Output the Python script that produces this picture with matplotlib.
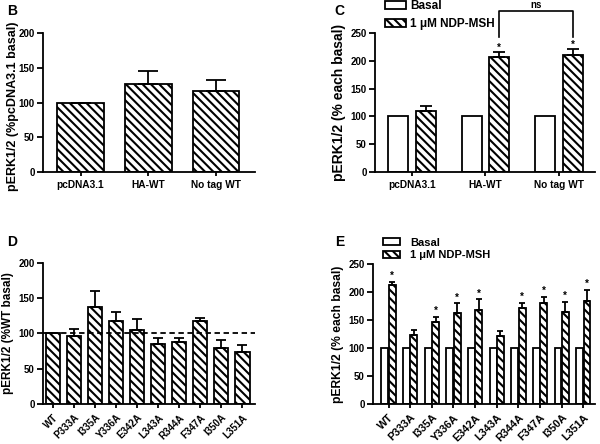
import numpy as np
import matplotlib
matplotlib.use('Agg')
import matplotlib.pyplot as plt
from matplotlib.patches import Patch

plt.rcParams['font.family'] = ['Liberation Sans', 'DejaVu Sans']
plt.rcParams['font.weight'] = 'bold'
plt.rcParams['axes.labelweight'] = 'bold'
plt.rcParams['hatch.linewidth'] = 1.5
plt.rcParams['axes.linewidth'] = 1.3

# ---- data ----
# panel B
b_labels = ['pcDNA3.1', 'HA-WT', 'No tag WT']
b_mean = [100, 126, 117]
b_err = [0, 20, 15]

# panel C
c_labels = ['pcDNA3.1', 'HA-WT', 'No tag WT']
c_basal = [100, 100, 100]
c_ndp = [109, 206, 211]
c_ndp_err = [10, 10, 10]
c_sig = [False, True, True]

# panel D
mut_labels = ['WT', 'P333A', 'I335A', 'Y336A', 'E342A',
              'L343A', 'R344A', 'F347A', 'I350A', 'L351A']
d_mean = [100, 96, 137, 117, 105, 85, 88, 117, 80, 74]
d_err = [0, 11, 23, 14, 16, 8, 5, 5, 11, 10]

# panel E
e_basal = [100, 100, 100, 100, 100, 100, 100, 100, 100, 100]
e_ndp = [213, 123, 146, 162, 168, 121, 171, 180, 165, 184]
e_ndp_err = [6, 10, 10, 18, 19, 10, 10, 12, 18, 20]
e_sig = [True, False, True, True, True, False, True, True, True, True]

HATCH = '\\\\\\\\'
LW = 1.3


def style(ax):
    ax.spines['top'].set_visible(False)
    ax.spines['right'].set_visible(False)
    ax.tick_params(axis='y', direction='out', length=4, width=LW, labelsize=7, pad=2)
    ax.tick_params(axis='x', direction='out', length=3, width=LW, labelsize=7.3, pad=3)


def up_err(ax, x, y, e, cap=4):
    ax.errorbar(x, y, yerr=[np.zeros(len(e)), e], fmt='none', ecolor='black',
                elinewidth=LW, capsize=cap, capthick=LW, zorder=3)


fig = plt.figure(figsize=(6, 4.44), dpi=100)

handles = [Patch(facecolor='white', edgecolor='black', linewidth=LW, label='Basal'),
           Patch(facecolor='white', edgecolor='black', hatch=HATCH, linewidth=LW, label='1 \u03bcM NDP-MSH')]

# ---- B ----
axB = fig.add_axes([0.072, 0.6126, 0.353, 0.313])
xb = np.arange(len(b_labels))
axB.bar(xb, b_mean, 0.68, color='white', edgecolor='black', hatch=HATCH, linewidth=LW)
up_err(axB, xb, b_mean, b_err, cap=7)
axB.set_xlim(-0.55, 2.57)
axB.set_ylim(0, 200)
axB.set_yticks([0, 50, 100, 150, 200])
axB.set_xticks(xb)
axB.set_xticklabels(b_labels)
axB.set_ylabel('pERK1/2 (%pcDNA3.1 basal)', fontsize=9)
axB.yaxis.set_label_coords(-0.115, 0.47)
style(axB)

# ---- C ----
axC = fig.add_axes([0.625, 0.6126, 0.367, 0.313])
xc = np.arange(len(c_labels))
w = 0.27
axC.bar(xc - 0.187, c_basal, w, color='white', edgecolor='black', linewidth=LW)
axC.bar(xc + 0.187, c_ndp, w, color='white', edgecolor='black', hatch=HATCH, linewidth=LW)
up_err(axC, xc + 0.187, c_ndp, c_ndp_err, cap=4)
for i in range(len(c_labels)):
    if c_sig[i]:
        axC.text(xc[i] + 0.187, c_ndp[i] + c_ndp_err[i] + 8, '*', ha='center', va='center', fontsize=7)
# ns bracket
axC.plot([1.187, 1.187, 2.187, 2.187], [243, 289, 289, 243], color='black', lw=1.2, clip_on=False)
axC.text(1.687, 292, 'ns', ha='center', va='bottom', fontsize=7)
axC.set_xlim(-0.5, 2.49)
axC.set_ylim(0, 250)
axC.set_yticks([0, 50, 100, 150, 200, 250])
axC.set_xticks(xc)
axC.set_xticklabels(c_labels)
axC.set_ylabel('pERK1/2 (% each basal)', fontsize=10, labelpad=3)
style(axC)
axC.legend(handles=handles, loc='upper left', bbox_to_anchor=(0.045, 1.235), frameon=False,
           fontsize=8.5, handlelength=1.75, handleheight=0.65, labelspacing=0.5, handletextpad=0.4,
           borderaxespad=0, borderpad=0)

# ---- D ----
axD = fig.add_axes([0.072, 0.090, 0.353, 0.318])
xd = np.arange(len(mut_labels))
axD.bar(xd, d_mean, 0.68, color='white', edgecolor='black', hatch=HATCH, linewidth=LW)
up_err(axD, xd, d_mean, d_err, cap=3.5)
axD.axhline(100, color='black', lw=1.3, ls=(0, (3, 2)), zorder=4)
axD.set_xlim(-0.47, 9.6)
axD.set_ylim(0, 200)
axD.set_yticks([0, 50, 100, 150, 200])
axD.set_xticks(xd)
axD.set_xticklabels(mut_labels, rotation=45, ha='right', rotation_mode='anchor')
axD.set_ylabel('pERK1/2 (%WT basal)', fontsize=8.5, labelpad=3)
style(axD)
axD.tick_params(axis='x', labelsize=7)

# ---- E ----
axE = fig.add_axes([0.622, 0.090, 0.370, 0.315])
xe = np.arange(len(mut_labels))
we = 0.32
axE.bar(xe - 0.17, e_basal, we, color='white', edgecolor='black', linewidth=LW)
axE.bar(xe + 0.17, e_ndp, we, color='white', edgecolor='black', hatch=HATCH, linewidth=LW)
up_err(axE, xe + 0.17, e_ndp, e_ndp_err, cap=2)
for i in range(len(mut_labels)):
    if e_sig[i]:
        axE.text(xe[i] + 0.17, e_ndp[i] + e_ndp_err[i] + 10, '*', ha='center', va='center', fontsize=7)
axE.set_xlim(-0.71, 9.55)
axE.set_ylim(0, 250)
axE.set_yticks([0, 50, 100, 150, 200, 250])
axE.set_xticks(xe)
axE.set_xticklabels(mut_labels, rotation=45, ha='right', rotation_mode='anchor')
axE.set_ylabel('pERK1/2 (% each basal)', fontsize=8.7, labelpad=3)
style(axE)
axE.tick_params(axis='x', labelsize=7.8)
axE.legend(handles=handles, loc='upper left', bbox_to_anchor=(0.045, 1.19), frameon=False,
           fontsize=8, handlelength=1.55, handleheight=0.55, labelspacing=0.25, handletextpad=0.9,
           borderaxespad=0, borderpad=0)

# panel letters
fig.text(0.012, 0.975, 'B', fontsize=10, va='center')
fig.text(0.558, 0.975, 'C', fontsize=10, va='center')
fig.text(0.012, 0.455, 'D', fontsize=10, va='center')
fig.text(0.558, 0.455, 'E', fontsize=10, va='center')

fig.savefig('out.png', dpi=100)
